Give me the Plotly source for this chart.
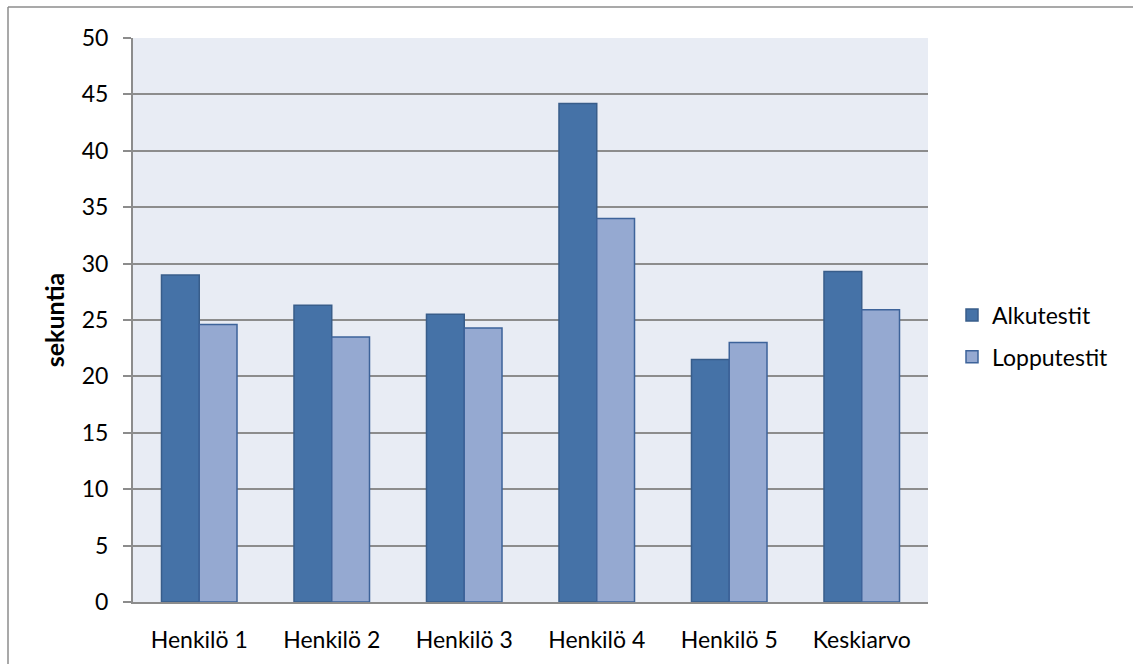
import plotly.graph_objects as go

categories = ["Henkilö 1", "Henkilö 2", "Henkilö 3", "Henkilö 4", "Henkilö 5", "Keskiarvo"]
alkutestit = [29.0, 26.3, 25.5, 44.2, 21.5, 29.3]
lopputestit = [24.6, 23.5, 24.3, 34.0, 23.0, 25.9]
y_ticks = [0, 5, 10, 15, 20, 25, 30, 35, 40, 45, 50]

W, H = 1133, 664
L, R, T, B = 133, 205, 38, 62
pw, ph = W - L - R, H - T - B

def px_x(x):
    return (x - L) / pw

def px_y(y):
    return (H - B - y) / ph

FONT = "Lato"
FS = 23

fig = go.Figure()
fig.add_trace(go.Bar(
    x=categories, y=alkutestit, name="Alkutestit",
    marker=dict(color="#4572A7", line=dict(color="#385D8A", width=1.5)),
    legendgroup="a",
))
fig.add_trace(go.Bar(
    x=categories, y=lopputestit, name="Lopputestit",
    marker=dict(color="#95A9D1", line=dict(color="#3D639A", width=1.5)),
    legendgroup="b",
))

grid = "#8C8C8C"
fig.update_layout(
    width=W, height=H,
    margin=dict(l=L, r=R, t=T, b=B),
    paper_bgcolor="white",
    plot_bgcolor="#E8ECF4",
    barmode="group",
    bargap=0.43,
    bargroupgap=0,
    font=dict(family=FONT, size=FS, color="black"),
    showlegend=True,
    legend=dict(
        x=px_x(952), y=px_y(336), xanchor="left", yanchor="middle",
        traceorder="grouped", tracegroupgap=9,
        font=dict(family=FONT, size=FS, color="black"),
        itemwidth=30,
        bgcolor="rgba(0,0,0,0)",
    ),
    xaxis=dict(
        showline=True, linecolor=grid, linewidth=2,
        showgrid=False, ticks="", ticklabelstandoff=16,
        tickfont=dict(family=FONT, size=FS),
    ),
    yaxis=dict(
        range=[0, 50], tickvals=y_ticks,
        showline=True, linecolor=grid, linewidth=2,
        showgrid=True, gridcolor=grid, gridwidth=2,
        zeroline=False,
        ticks="outside", ticklen=8, tickwidth=2, tickcolor=grid,
        ticklabelstandoff=10,
        tickfont=dict(family=FONT, size=FS),
        title=dict(text="<b>sekuntia</b>", font=dict(family=FONT, size=25), standoff=10),
    ),
    shapes=[
        dict(type="line", xref="paper", yref="paper",
             x0=px_x(8), x1=px_x(1140), y0=px_y(7), y1=px_y(7),
             line=dict(color="#8C8C8C", width=1.5)),
        dict(type="line", xref="paper", yref="paper",
             x0=px_x(8), x1=px_x(8), y0=px_y(7), y1=px_y(670),
             line=dict(color="#8C8C8C", width=1.5)),
    ],
)

fig.write_html("out.html")
